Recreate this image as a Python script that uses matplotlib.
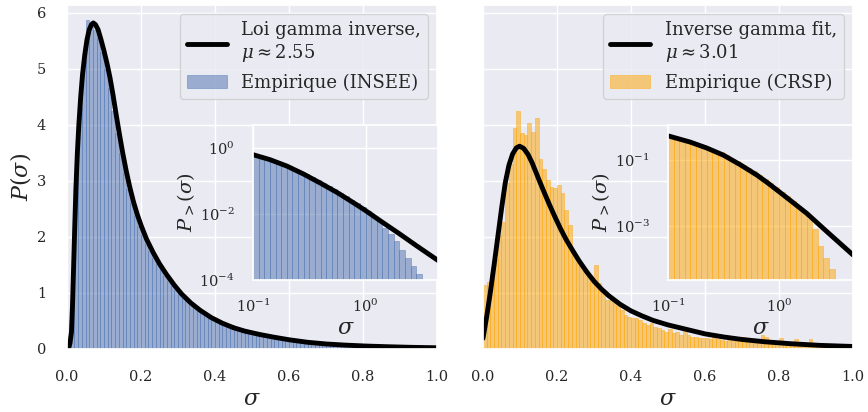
import numpy as np
import matplotlib
matplotlib.use("Agg")
import matplotlib.pyplot as plt
import seaborn as sns

sns.set_theme(style="darkgrid")
plt.rcParams["font.family"] = ["DejaVu Serif"]
plt.rcParams["mathtext.fontset"] = "dejavuserif"

# ---- histograms of sigma, bins of width 0.01 on [0, 1] ----
bin_width = 0.01
insee_density = [
    0.15, 1.1, 3.1, 4.3, 5.15, 5.87, 5.8, 5.7, 5.55, 5.3,
    5.0, 4.65, 4.25, 3.85, 3.5, 3.15, 2.85, 2.6, 2.38, 2.2,
    2.03, 1.88, 1.75, 1.63, 1.51, 1.41, 1.31, 1.22, 1.13, 1.05,
    0.98, 0.92, 0.86, 0.81, 0.76, 0.71, 0.67, 0.63, 0.59, 0.55,
    0.52, 0.49, 0.46, 0.44, 0.42, 0.40, 0.38, 0.36, 0.34, 0.32,
    0.30, 0.29, 0.27, 0.25, 0.23, 0.21, 0.20, 0.19, 0.18, 0.17,
    0.16, 0.15, 0.14, 0.135, 0.13, 0.12, 0.115, 0.11, 0.105, 0.10,
    0.095, 0.09, 0.085, 0.08, 0.076, 0.072, 0.068, 0.064, 0.06, 0.057,
    0.054, 0.051, 0.048, 0.046, 0.043, 0.041, 0.039, 0.037, 0.035, 0.033,
    0.032, 0.03, 0.029, 0.027, 0.026, 0.025, 0.024, 0.023, 0.022, 0.022,
]
crsp_density = [
    1.14, 1.2, 1.35, 1.6, 2.04, 2.27, 2.96, 3.3, 3.94, 4.24,
    3.85, 3.82, 4.03, 3.88, 4.12, 3.4, 3.22, 3.02, 2.9, 2.87,
    2.93, 2.78, 2.48, 2.22, 1.74, 1.53, 1.53, 1.4, 1.35, 1.2,
    1.5, 1.17, 1.02, 0.88, 0.88, 0.82, 0.76, 0.70, 0.61, 0.58,
    0.55, 0.55, 0.52, 0.46, 0.43, 0.46, 0.40, 0.37, 0.34, 0.31,
    0.35, 0.28, 0.30, 0.25, 0.37, 0.25, 0.22, 0.22, 0.20, 0.19,
    0.19, 0.18, 0.28, 0.17, 0.16, 0.15, 0.16, 0.14, 0.15, 0.14,
    0.22, 0.13, 0.12, 0.13, 0.11, 0.25, 0.22, 0.12, 0.11, 0.10,
    0.19, 0.10, 0.09, 0.10, 0.18, 0.08, 0.09, 0.08, 0.17, 0.07,
    0.06, 0.07, 0.06, 0.05, 0.06, 0.05, 0.05, 0.04, 0.05, 0.04,
]

# ---- fitted inverse gamma densities ----
insee_fit_sigma = [0.0, 0.004, 0.008, 0.012, 0.015, 0.018, 0.021, 0.024, 0.028, 0.032,
                   0.037, 0.042, 0.048, 0.054, 0.060, 0.066, 0.071, 0.077, 0.084, 0.092,
                   0.100, 0.108, 0.116, 0.124, 0.132, 0.140, 0.150, 0.160, 0.170, 0.180,
                   0.190, 0.200, 0.215, 0.233, 0.250, 0.269, 0.29, 0.31, 0.335, 0.36,
                   0.39, 0.42, 0.45, 0.48, 0.52, 0.56, 0.60, 0.65, 0.70, 0.75,
                   0.81, 0.87, 0.93, 1.0]
insee_fit_pdf = [0.0, 0.02, 0.10, 0.30, 0.80, 1.50, 2.20, 2.85, 3.50, 4.00,
                 4.50, 4.90, 5.25, 5.52, 5.70, 5.79, 5.82, 5.79, 5.70, 5.52,
                 5.32, 5.10, 4.85, 4.55, 4.22, 3.90, 3.52, 3.18, 2.88, 2.62,
                 2.40, 2.21, 1.96, 1.72, 1.52, 1.33, 1.14, 0.98, 0.82, 0.69,
                 0.56, 0.46, 0.38, 0.32, 0.26, 0.21, 0.165, 0.12, 0.09, 0.07,
                 0.052, 0.04, 0.03, 0.022]
crsp_fit_sigma = [0.0, 0.010, 0.020, 0.030, 0.040, 0.050, 0.060, 0.070, 0.080, 0.090,
                  0.099, 0.110, 0.122, 0.133, 0.144, 0.155, 0.167, 0.180, 0.195, 0.210,
                  0.225, 0.244, 0.26, 0.28, 0.30, 0.32, 0.34, 0.37, 0.40, 0.43,
                  0.46, 0.50, 0.55, 0.60, 0.65, 0.70, 0.76, 0.83, 0.91, 1.0]
crsp_fit_pdf = [0.19, 0.58, 1.02, 1.50, 2.00, 2.50, 2.96, 3.28, 3.48, 3.59,
                3.62, 3.58, 3.47, 3.32, 3.14, 2.96, 2.77, 2.57, 2.35, 2.14,
                1.95, 1.74, 1.57, 1.38, 1.21, 1.07, 0.95, 0.80, 0.68, 0.59,
                0.51, 0.43, 0.35, 0.27, 0.215, 0.17, 0.13, 0.095, 0.065, 0.045]

# ---- survival functions P_>(sigma), log bins of 0.05 decade from 0.1 ----
inset_log_step = 0.05
insee_surv = [0.62, 0.56, 0.50, 0.44, 0.38, 0.32, 0.28, 0.23, 0.19, 0.16,
              0.13, 0.105, 0.085, 0.069, 0.055, 0.044, 0.035, 0.027, 0.021, 0.016,
              0.012, 0.0089, 0.006, 0.0038, 0.0025, 0.0015, 0.00079, 0.00045, 0.00026, 0.00015]
crsp_surv = [0.54, 0.49, 0.45, 0.40, 0.35, 0.31, 0.27, 0.23, 0.19, 0.17,
             0.14, 0.11, 0.091, 0.072, 0.058, 0.045, 0.035, 0.027, 0.020, 0.015,
             0.011, 0.0081, 0.0058, 0.0041, 0.0028, 0.0016, 0.00079, 0.00025, 0.00011, 0.00005]

insee_surv_fit_sigma = [0.1, 0.141, 0.2, 0.282, 0.398, 0.562, 0.794, 1.0, 1.41, 2.0, 2.82, 4.4]
insee_surv_fit = [0.62, 0.44, 0.28, 0.16, 0.085, 0.044, 0.021, 0.0126, 0.0056, 0.0025, 0.0011, 0.00039]
crsp_surv_fit_sigma = [0.1, 0.158, 0.224, 0.316, 0.447, 0.631, 0.794, 1.0, 1.26, 1.78, 2.69, 4.64]
crsp_surv_fit = [0.54, 0.35, 0.23, 0.14, 0.072, 0.035, 0.020, 0.011, 0.006, 0.0024, 0.00068, 0.000132]

panels = [
    dict(density=insee_density, fit_x=insee_fit_sigma, fit_y=insee_fit_pdf,
         surv=insee_surv, sfit_x=insee_surv_fit_sigma, sfit_y=insee_surv_fit,
         color="#4C72B0", fit_label="Loi gamma inverse,\n$\\mu \\approx 2.55$",
         hist_label="Empirique (INSEE)", ins_xlim=(0.1, 4.4), ins_ylim=(1.15e-4, 4.9),
         ins_yticks=[1e0, 1e-2, 1e-4]),
    dict(density=crsp_density, fit_x=crsp_fit_sigma, fit_y=crsp_fit_pdf,
         surv=crsp_surv, sfit_x=crsp_surv_fit_sigma, sfit_y=crsp_surv_fit,
         color="orange", fit_label="Inverse gamma fit,\n$\\mu \\approx 3.01$",
         hist_label="Empirique (CRSP)", ins_xlim=(0.1, 4.64), ins_ylim=(2.3e-5, 1.15),
         ins_yticks=[1e-1, 1e-3]),
]

W, H = 868, 412
fig = plt.figure(figsize=(W / 100, H / 100), dpi=100)
main_left = [67, 483]
ins_left = [253, 668]

axes = []
for i, p in enumerate(panels):
    share = axes[0] if axes else None
    ax = fig.add_axes([main_left[i] / W, 63 / H, 370 / W, 344 / H], sharey=share)
    axes.append(ax)

    edges = np.arange(len(p["density"])) * bin_width
    ax.bar(edges, p["density"], width=bin_width, align="edge", color=p["color"],
           edgecolor=p["color"], linewidth=0.6, alpha=0.5, label=p["hist_label"])
    ax.plot(p["fit_x"], p["fit_y"], color="black", lw=3.5, label=p["fit_label"],
            solid_joinstyle="round")
    ax.set_xlim(0, 1)
    ax.set_ylim(0, 6.14)
    ax.set_xticks([0, 0.2, 0.4, 0.6, 0.8, 1.0])
    ax.tick_params(labelsize=10.5, pad=9)
    ax.set_xlabel("$\\sigma$", fontsize=16, labelpad=3)
    ax.legend(loc="upper right", fontsize=13, handlelength=2.2, labelspacing=0.5)
    if i == 0:
        ax.set_ylabel("$P(\\sigma)$", fontsize=16, labelpad=3)
    else:
        ax.tick_params(labelleft=False)

    # inset: cumulative distribution in log-log
    ins = fig.add_axes([ins_left[i] / W, 132 / H, 185 / W, 155 / H])
    log_edges = -1.0 + np.arange(len(p["surv"]) + 1) * inset_log_step
    lo, hi = 10 ** log_edges[:-1], 10 ** log_edges[1:]
    ins.bar(lo, p["surv"], width=hi - lo, align="edge", color=p["color"],
            edgecolor=p["color"], linewidth=0.6, alpha=0.5)
    ins.plot(p["sfit_x"], p["sfit_y"], color="black", lw=3.5, solid_joinstyle="round")
    ins.set_xscale("log")
    ins.set_yscale("log")
    ins.set_xlim(*p["ins_xlim"])
    ins.set_ylim(*p["ins_ylim"])
    ins.set_xticks([0.1, 1.0])
    ins.set_yticks(p["ins_yticks"])
    ins.minorticks_off()
    ins.tick_params(labelsize=10.5, pad=7)
    ins.set_xlabel("$\\sigma$", fontsize=16, labelpad=1)
    ins.set_ylabel("$P_{>}(\\sigma)$", fontsize=14, labelpad=2)

fig.savefig("out.png", dpi=100)
